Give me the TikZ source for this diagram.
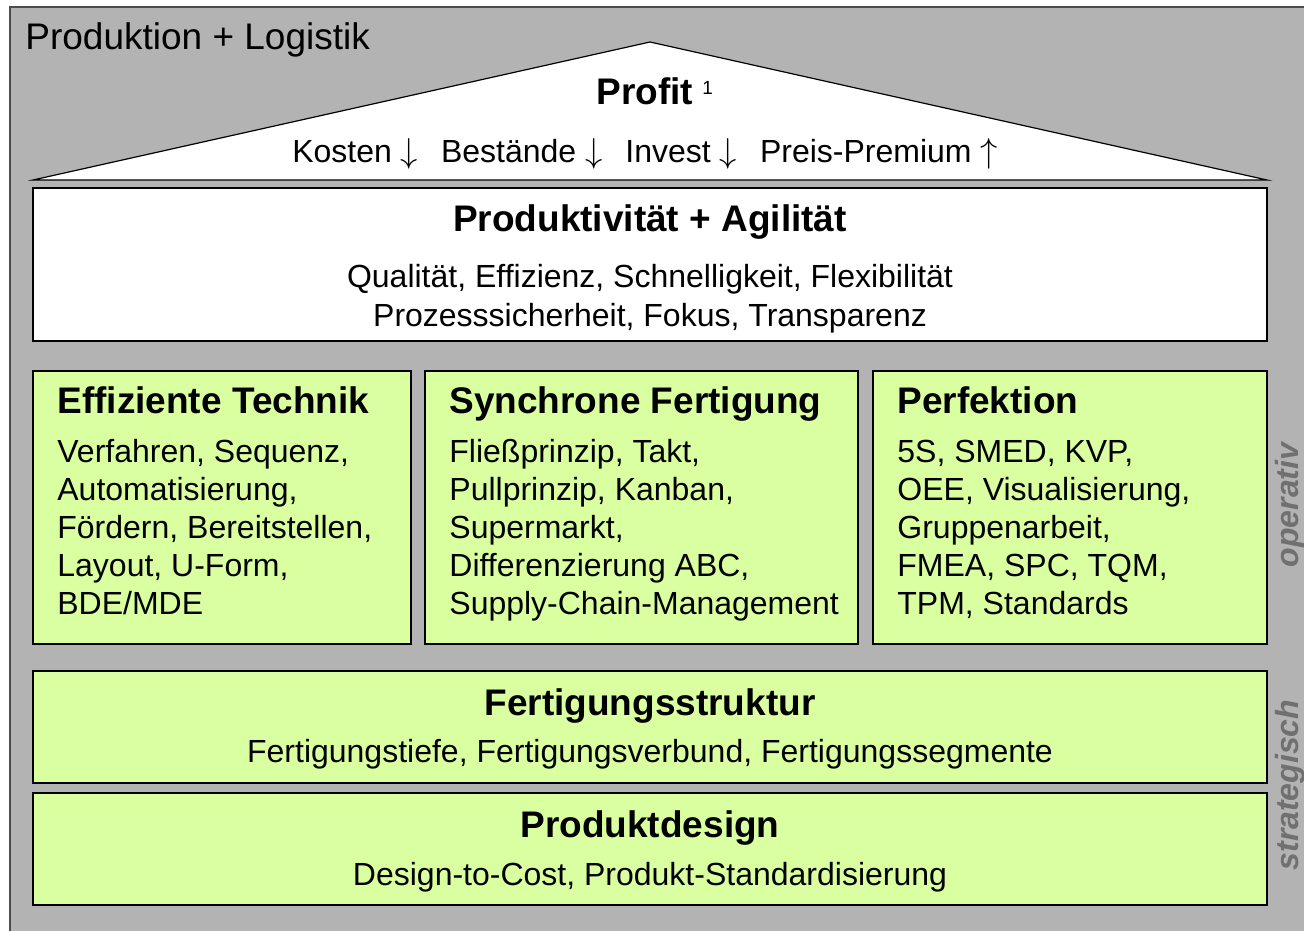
\documentclass[tikz,border=0pt]{standalone}
\usepackage{fontspec}
\setmainfont{Liberation Sans}
\usetikzlibrary{positioning}
\definecolor{housegray}{RGB}{179,179,179}
\definecolor{leaf}{RGB}{217,255,160}
\definecolor{sidegray}{RGB}{112,112,112}
\tikzset{
  field/.style={draw=black, line width=0.6pt, fill=leaf},
  band/.style={draw=black, line width=0.6pt, fill=white},
  big/.style={font=\fontsize{18.5}{22}\selectfont, inner sep=0pt, anchor=base},
  head/.style={font=\fontsize{18.5}{22}\selectfont\bfseries, inner sep=0pt, anchor=base},
  txt/.style={font=\fontsize{16}{19}\selectfont, inner sep=0pt, anchor=base},
  side/.style={font=\fontsize{16}{19}\selectfont\bfseries\itshape, text=sidegray, rotate=90, inner sep=0pt},
}

\begin{document}
\begin{tikzpicture}[x=0.5pt,y=-0.5pt]
  \useasboundingbox (0,0) rectangle (1304,930);
  % house
  \filldraw[fill=housegray, draw=black!70, line width=0.8pt] (10,7) rectangle (1330,950);
  \node[big, anchor=base west] (title) at (25,50) {Produktion + Logistik};

  % roof
  \draw[band] (33,180) -- (650,42) -- (1267,180) -- cycle;
  \node[head] (profit) at (645,105) {Profit};
  \node[inner sep=0pt, anchor=base west, font=\fontsize{9.5}{10}\selectfont] (note) at (702,95) {1};
  \node[txt] (goals) at (645,163) {Kosten $\downarrow$\hspace{11.5pt}Bestände $\downarrow$\hspace{11.5pt}Invest $\downarrow$\hspace{11.5pt}Preis-Premium $\uparrow$};

  % ceiling
  \draw[band] (33,188) rectangle (1267,341);
  \node[head] (prod) at (650,232) {Produktivität + Agilität};
  \node[txt] (prodA) at (650,288) {Qualität, Effizienz, Schnelligkeit, Flexibilität};
  \node[txt] (prodB) at (650,326) {Prozesssicherheit, Fokus, Transparenz};

  % pillars
  \draw[field] (33,371) rectangle (411,644);
  \draw[field] (425,371) rectangle (858,644);
  \draw[field] (873,371) rectangle (1267,644);
  \node[head, anchor=base west] (tech) at (57,413) {Effiziente Technik};
  \node[head, anchor=base west] (sync) at (449,413) {Synchrone Fertigung};
  \node[head, anchor=base west] (perf) at (897,413) {Perfektion};
  \foreach \l [count=\i from 0] in {{Verfahren, Sequenz,},{Automatisierung,},{Fördern, Bereitstellen,},{Layout, U-Form,},{BDE/MDE}}
    \node[txt, anchor=base west] (tech\i) at (57,462+38*\i) {\l};
  \foreach \l [count=\i from 0] in {{Fließprinzip, Takt,},{Pullprinzip, Kanban,},{Supermarkt,},{Differenzierung ABC,},{Supply-Chain-Management}}
    \node[txt, anchor=base west] (sync\i) at (449,462+38*\i) {\l};
  \foreach \l [count=\i from 0] in {{5S, SMED, KVP,},{OEE, Visualisierung,},{Gruppenarbeit,},{FMEA, SPC, TQM,},{TPM, Standards}}
    \node[txt, anchor=base west] (perf\i) at (897,462+38*\i) {\l};

  % foundation
  \draw[field] (33,671) rectangle (1267,783);
  \node[head] (struct) at (650,715) {Fertigungsstruktur};
  \node[txt] (structA) at (650,762) {Fertigungstiefe, Fertigungsverbund, Fertigungssegmente};
  \draw[field] (33,793) rectangle (1267,905);
  \node[head] (design) at (650,837) {Produktdesign};
  \node[txt] (designA) at (650,885) {Design-to-Cost, Produkt-Standardisierung};

  % levels
  \node[side] (op) at (1290,505) {operativ};
  \node[side] (strat) at (1290,785) {strategisch};
\end{tikzpicture}
\end{document}
